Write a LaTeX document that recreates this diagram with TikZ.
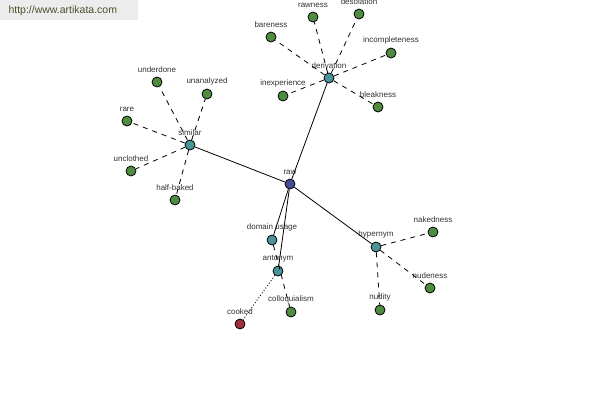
\documentclass[tikz,border=0pt]{standalone}
\usepackage{fontspec}
\setmainfont{Liberation Sans}
\usepackage{tikz}
\usetikzlibrary{positioning}
\definecolor{rawblue}{RGB}{70, 74, 156}
\definecolor{relteal}{RGB}{72, 148, 150}
\definecolor{leafgreen}{RGB}{80, 140, 64}
\definecolor{antred}{RGB}{160, 48, 64}
\definecolor{labelgrey}{RGB}{50, 50, 50}
\definecolor{markgrey}{RGB}{236, 236, 236}
\definecolor{marktext}{RGB}{70, 82, 40}

\begin{document}
\begin{tikzpicture}[
    x=1pt, y=-1pt,
    every node/.style = {font=\fontsize{8}{9}\selectfont\color{labelgrey}},
    word/.style = {
        circle, draw=black, line width=0.8pt,
        minimum size=10pt, inner sep=0pt,
        label distance=-1.5pt
    },
    rootword/.style = {word, fill=rawblue},
    relword/.style  = {word, fill=relteal},
    leafword/.style = {word, fill=leafgreen},
    oppword/.style  = {word, fill=antred},
    link/.style  = {black, line width=0.8pt},
    weak/.style  = {link, dash pattern=on 5pt off 5pt},
    faint/.style = {link, dash pattern=on 1pt off 2pt},
]
\useasboundingbox (0,0) rectangle (600,400);

% Site mark
\fill[markgrey] (0,0) rectangle (138,20);
\node[anchor=west, font=\fontsize{10.5}{12}\selectfont\color{marktext}] (site) at (5,11) {http://www.artikata.com};

% Centre
\node[rootword, label=above:raw] (raw) at (290,184) {};

% Relations
\node[relword, label=above:derivation]   (deriv)  at (329,78)  {};
\node[relword, label=above:similar]      (sim)    at (190,145) {};
\node[relword, label=above:domain usage] (domain) at (272,240) {};
\node[relword, label=above:antonym]      (ant)    at (278,271) {};
\node[relword, label=above:hypernym]     (hyper)  at (376,247) {};

% Derivation words
\node[leafword, label=above:bareness]       (bare)   at (271,37)  {};
\node[leafword, label=above:rawness]        (rawn)   at (313,17)  {};
\node[leafword, label=above:desolation]     (desol)  at (359,14)  {};
\node[leafword, label=above:incompleteness] (incomp) at (391,53)  {};
\node[leafword, label=above:inexperience]   (inexp)  at (283,96)  {};
\node[leafword, label=above:bleakness]      (bleak)  at (378,107) {};

% Similar words
\node[leafword, label=above:underdone]  (under) at (157,82)  {};
\node[leafword, label=above:unanalyzed] (unan)  at (207,94)  {};
\node[leafword, label=above:rare]       (rare)  at (127,121) {};
\node[leafword, label=above:unclothed]  (uncl)  at (131,171) {};
\node[leafword, label=above:half-baked] (half)  at (175,200) {};

% Antonym and usage
\node[oppword,  label=above:cooked]        (cooked) at (240,324) {};
\node[leafword, label=above:colloquialism] (colloq) at (291,312) {};

% Hypernym words
\node[leafword, label=above:nakedness] (naked) at (433,232) {};
\node[leafword, label=above:nudeness]  (nude)  at (430,288) {};
\node[leafword, label=above:nudity]    (nudity) at (380,310) {};

% Links
\draw[link] (raw) -- (deriv);
\draw[link] (raw) -- (sim);
\draw[link] (raw) -- (domain);
\draw[link] (raw) -- (ant);
\draw[link] (raw) -- (hyper);

\foreach \w in {bare, rawn, desol, incomp, inexp, bleak}
    \draw[weak] (deriv) -- (\w);
\foreach \w in {under, unan, rare, uncl, half}
    \draw[weak] (sim) -- (\w);
\foreach \w in {naked, nude, nudity}
    \draw[weak] (hyper) -- (\w);
\draw[weak]  (domain) -- (colloq);
\draw[faint] (ant) -- (cooked);

\end{tikzpicture}
\end{document}
